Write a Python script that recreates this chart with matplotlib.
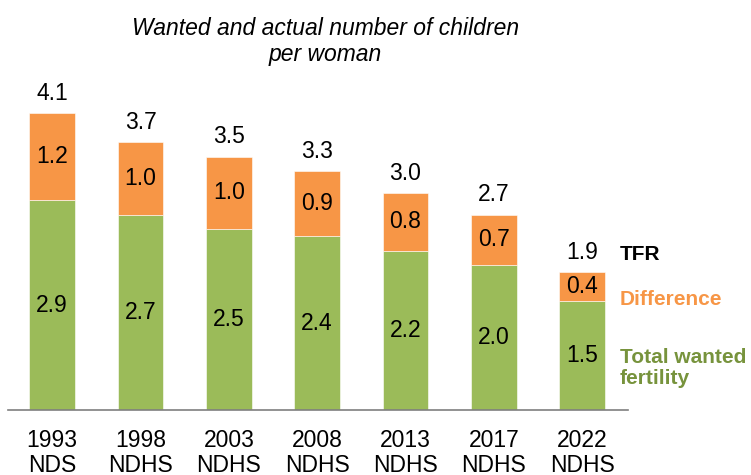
import numpy as np
import matplotlib.pyplot as plt

plt.rcParams['font.family'] = ['Liberation Sans', 'DejaVu Sans']

surveys = ["1993\nNDS", "1998\nNDHS", "2003\nNDHS", "2008\nNDHS",
           "2013\nNDHS", "2017\nNDHS", "2022\nNDHS"]
wanted = [2.9, 2.7, 2.5, 2.4, 2.2, 2.0, 1.5]
difference = [1.2, 1.0, 1.0, 0.9, 0.8, 0.7, 0.4]
tfr = [4.1, 3.7, 3.5, 3.3, 3.0, 2.7, 1.9]

green = "#9BBB59"
orange = "#F79646"

fig = plt.figure(figsize=(7.51, 4.75), dpi=100)
ax = fig.add_axes([0.0107, 0.137, 0.8256, 0.716])

x = np.arange(len(surveys))
w = 0.52
ax.bar(x, wanted, w, color=green, edgecolor="white", linewidth=0.4)
ax.bar(x, difference, w, bottom=wanted, color=orange, edgecolor="white", linewidth=0.4)

for i in range(len(x)):
    ax.text(x[i], wanted[i] / 2, "%.1f" % wanted[i], ha="center", va="center", fontsize=16.5)
    ax.text(x[i], wanted[i] + difference[i] / 2, "%.1f" % difference[i],
            ha="center", va="center", fontsize=16.5)
    ax.annotate("%.1f" % tfr[i], (x[i], tfr[i]), xytext=(0, 6), textcoords="offset points",
                ha="center", va="bottom", fontsize=16.5)

# legend-like labels next to the last bar
last = len(x) - 1
ax.annotate("TFR", (x[last] + 0.43, tfr[last]), xytext=(0, 6), textcoords="offset points",
            ha="left", va="bottom", fontsize=15, fontweight="bold", color="black",
            annotation_clip=False)
ax.text(x[last] + 0.43, 1.52, "Difference", ha="left", va="center",
        fontsize=15, fontweight="bold", color=orange, clip_on=False)
ax.text(x[last] + 0.43, 0.58, "Total wanted\nfertility", ha="left", va="center",
        fontsize=15, fontweight="bold", color="#77933C", clip_on=False, linespacing=1.1)

ax.set_xlim(-0.5, 6.52)
ax.set_ylim(0, 4.7)
ax.set_xticks(x)
ax.set_xticklabels(surveys, fontsize=16.5, linespacing=1.1)
ax.tick_params(axis="x", length=0, pad=14)
ax.set_yticks([])
for s in ["top", "right", "left"]:
    ax.spines[s].set_visible(False)
ax.spines["bottom"].set_color("#7f7f7f")
ax.spines["bottom"].set_linewidth(1.2)

fig.text(0.433, 1 - 35 / 475, "Wanted and actual number of children", ha="center",
         va="baseline", fontsize=16.5, style="italic")
fig.text(0.433, 1 - 61 / 475, "per woman", ha="center",
         va="baseline", fontsize=16.5, style="italic")

fig.savefig("out.png", dpi=100)
